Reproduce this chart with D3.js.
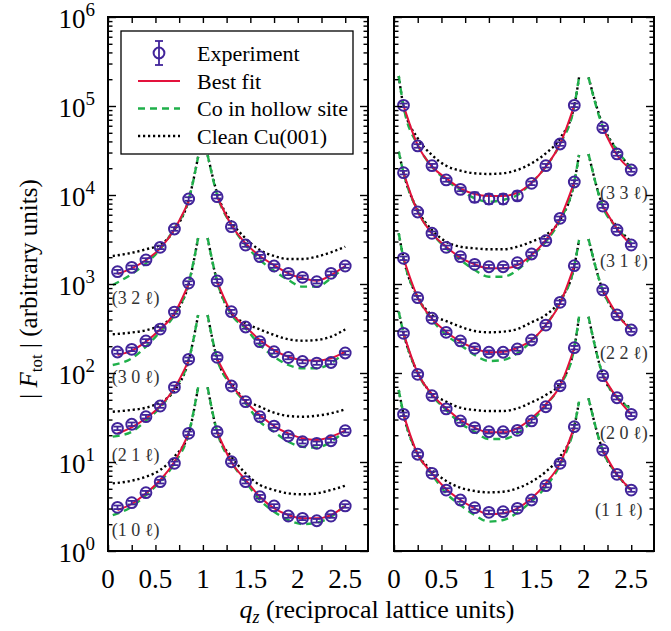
<!DOCTYPE html>
<html>
<head>
<meta charset="utf-8">
<script src="https://cdn.jsdelivr.net/npm/d3@7"></script>
<style>
  body { margin: 0; background: #fff; }
  svg, svg text { font-family: "Liberation Serif", "Times New Roman", "DejaVu Serif", serif; }
</style>
</head>
<body>
<svg id="chart" width="671" height="631" font-family="Liberation Serif, Times New Roman, serif"></svg>
<script>
// all values are log10 |F_tot|

// q_z grids
var qPtL  = [0.1, 0.25, 0.4, 0.55, 0.7, 0.85, 1.15, 1.3, 1.45, 1.6, 1.75, 1.9, 2.05, 2.2, 2.35, 2.5];
var qModL = [0.05, 0.25, 0.4, 0.55, 0.7, 0.85, 0.95, 1.05, 1.15, 1.3, 1.45, 1.6, 1.75, 1.9, 2.05, 2.2, 2.35, 2.5];
var qPtR  = [0.1, 0.25, 0.4, 0.55, 0.7, 0.85, 1.0, 1.15, 1.3, 1.45, 1.6, 1.75, 1.9, 2.2, 2.35, 2.5];
var qModR = [0.05, 0.1, 0.25, 0.4, 0.55, 0.7, 0.85, 1.0, 1.15, 1.3, 1.45, 1.6, 1.75, 1.9, 1.95, 2.05, 2.2, 2.35, 2.5];

// left panel rods: pt = experiment, fit = best fit, co = Co in hollow site, cu = clean Cu(001)
var pt10 = [0.491, 0.543, 0.655, 0.779, 0.985, 1.322, 1.34, 1.003, 0.779, 0.61, 0.506, 0.393, 0.367, 0.34, 0.393, 0.506];
var fit10 = [0.461, 0.528, 0.648, 0.798, 1.003, 1.32, 1.34, 1.0, 0.798, 0.61, 0.48, 0.404, 0.367, 0.367, 0.404, 0.506];
var co10 = [0.404, 0.498, 0.629, 0.779, 0.985, 1.32, 1.839, 1.839, 1.34, 1.0, 0.779, 0.573, 0.442, 0.348, 0.303, 0.318, 0.385, 0.517];
var cu10 = [0.76, 0.79, 0.835, 0.91, 1.06, 1.32, 1.839, 1.839, 1.34, 1.06, 0.873, 0.742, 0.685, 0.648, 0.637, 0.648, 0.685, 0.734];

var pt21 = [1.378, 1.424, 1.509, 1.629, 1.839, 2.154, 2.176, 1.854, 1.678, 1.509, 1.404, 1.292, 1.228, 1.21, 1.239, 1.352];
var fit21 = [1.322, 1.39, 1.491, 1.629, 1.828, 2.14, 2.16, 1.87, 1.678, 1.528, 1.404, 1.322, 1.266, 1.247, 1.284, 1.352];
var co21 = [1.285, 1.34, 1.464, 1.614, 1.828, 2.14, 2.652, 2.652, 2.16, 1.86, 1.66, 1.453, 1.34, 1.228, 1.172, 1.161, 1.228, 1.352];
var cu21 = [1.565, 1.585, 1.61, 1.67, 1.80, 2.14, 2.652, 2.652, 2.16, 1.884, 1.697, 1.621, 1.554, 1.517, 1.509, 1.52, 1.547, 1.592];

var pt30 = [2.236, 2.266, 2.36, 2.494, 2.685, 3.011, 3.034, 2.689, 2.517, 2.352, 2.239, 2.174, 2.129, 2.112, 2.118, 2.225];
var fit30 = [2.202, 2.251, 2.352, 2.491, 2.67, 3.0, 3.03, 2.68, 2.52, 2.371, 2.258, 2.183, 2.146, 2.139, 2.165, 2.239];
var co30 = [2.09, 2.165, 2.296, 2.464, 2.652, 3.01, 3.517, 3.517, 3.03, 2.66, 2.502, 2.315, 2.183, 2.09, 2.053, 2.053, 2.109, 2.239];
var cu30 = [2.435, 2.455, 2.48, 2.535, 2.66, 3.0, 3.517, 3.517, 3.03, 2.67, 2.56, 2.49, 2.427, 2.379, 2.363, 2.371, 2.408, 2.49];

var pt32 = [3.138, 3.187, 3.27, 3.412, 3.618, 3.955, 3.981, 3.644, 3.438, 3.307, 3.202, 3.12, 3.075, 3.026, 3.12, 3.202];
var fit32 = [3.112, 3.176, 3.27, 3.40, 3.614, 3.925, 3.98, 3.663, 3.457, 3.315, 3.213, 3.12, 3.064, 3.037, 3.101, 3.202];
var co32 = [2.989, 3.112, 3.232, 3.39, 3.626, 3.944, 4.43, 4.45, 4.0, 3.663, 3.438, 3.27, 3.149, 3.045, 2.97, 2.97, 3.064, 3.195];
var cu32 = [3.315, 3.35, 3.39, 3.44, 3.607, 3.944, 4.43, 4.45, 4.02, 3.70, 3.513, 3.382, 3.315, 3.281, 3.281, 3.307, 3.356, 3.419];

// right panel rods
var pt11 = [1.536, 1.087, 0.873, 0.685, 0.573, 0.487, 0.435, 0.442, 0.48, 0.573, 0.734, 0.985, 1.397, 1.135, 0.862, 0.685];
var fit11 = [1.536, 1.087, 0.873, 0.697, 0.573, 0.48, 0.412, 0.424, 0.48, 0.592, 0.761, 0.985, 1.397, 1.135, 0.862, 0.685];
var co11 = [1.809, 1.54, 1.09, 0.86, 0.648, 0.517, 0.404, 0.33, 0.348, 0.43, 0.56, 0.72, 0.97, 1.4, 1.678, 1.716, 1.13, 0.86, 0.685];
var cu11 = [1.809, 1.54, 1.09, 0.91, 0.787, 0.711, 0.674, 0.659, 0.666, 0.704, 0.779, 0.891, 1.06, 1.4, 1.678, 1.716, 1.13, 0.86, 0.685];

var pt20 = [2.446, 1.985, 1.745, 1.596, 1.461, 1.386, 1.34, 1.34, 1.356, 1.461, 1.621, 1.857, 2.284, 1.97, 1.722, 1.536];
var fit20 = [2.446, 2.0, 1.76, 1.603, 1.472, 1.386, 1.333, 1.333, 1.379, 1.491, 1.648, 1.857, 2.284, 1.97, 1.722, 1.536];
var co20 = [2.689, 2.45, 2.0, 1.75, 1.584, 1.435, 1.34, 1.258, 1.258, 1.322, 1.453, 1.64, 1.857, 2.284, 2.633, 2.633, 1.98, 1.73, 1.59];
var cu20 = [2.689, 2.45, 2.0, 1.772, 1.678, 1.61, 1.584, 1.573, 1.573, 1.603, 1.671, 1.753, 1.884, 2.284, 2.633, 2.633, 1.98, 1.73, 1.603];

var pt22 = [3.289, 2.846, 2.615, 2.457, 2.36, 2.277, 2.233, 2.233, 2.27, 2.371, 2.539, 2.794, 3.206, 2.933, 2.652, 2.483];
var fit22 = [3.289, 2.85, 2.61, 2.464, 2.352, 2.277, 2.233, 2.239, 2.284, 2.371, 2.539, 2.783, 3.206, 2.933, 2.66, 2.483];
var co22 = [3.57, 3.29, 2.85, 2.6, 2.427, 2.315, 2.202, 2.135, 2.146, 2.221, 2.36, 2.539, 2.794, 3.2, 3.494, 3.506, 2.93, 2.66, 2.50];
var cu22 = [3.57, 3.29, 2.85, 2.652, 2.584, 2.52, 2.472, 2.457, 2.464, 2.494, 2.57, 2.652, 2.82, 3.2, 3.494, 3.506, 2.93, 2.66, 2.50];

var pt31 = [4.251, 3.809, 3.57, 3.412, 3.307, 3.221, 3.194, 3.194, 3.239, 3.337, 3.487, 3.738, 4.146, 3.876, 3.607, 3.438];
var fit31 = [4.251, 3.81, 3.57, 3.419, 3.296, 3.221, 3.176, 3.176, 3.213, 3.326, 3.494, 3.738, 4.146, 3.876, 3.62, 3.438];
var co31 = [4.487, 4.25, 3.82, 3.57, 3.401, 3.27, 3.157, 3.082, 3.082, 3.157, 3.307, 3.475, 3.719, 4.146, 4.449, 4.461, 3.87, 3.63, 3.46];
var cu31 = [4.487, 4.25, 3.831, 3.607, 3.475, 3.419, 3.401, 3.39, 3.39, 3.419, 3.475, 3.551, 3.719, 4.146, 4.449, 4.461, 3.876, 3.644, 3.475];

var pt33 = [5.008, 4.551, 4.329, 4.169, 4.063, 3.974, 3.955, 3.955, 3.99, 4.131, 4.329, 4.573, 5.008, 4.756, 4.461, 4.281];
var fit33 = [5.008, 4.56, 4.32, 4.188, 4.075, 4.011, 3.989, 3.989, 4.026, 4.138, 4.318, 4.573, 5.008, 4.756, 4.449, 4.281];
var co33 = [5.337, 5.0, 4.562, 4.318, 4.169, 4.056, 3.963, 3.925, 3.944, 4.0, 4.138, 4.318, 4.573, 5.0, 5.322, 5.322, 4.767, 4.506, 4.3];
var cu33 = [5.337, 5.0, 4.637, 4.449, 4.329, 4.273, 4.244, 4.236, 4.244, 4.281, 4.356, 4.468, 4.637, 5.0, 5.322, 5.322, 4.787, 4.506, 4.3];
var err33 = [0.02, 0.02, 0.02, 0.02, 0.02, 0.055, 0.055, 0.055, 0.05, 0.02, 0.02, 0.02, 0.02, 0.02, 0.02, 0.02];

var rodNamesL = ["(3 2 \u2113)", "(3 0 \u2113)", "(2 1 \u2113)", "(1 0 \u2113)"];
var rodNamesR = ["(3 3 \u2113)", "(3 1 \u2113)", "(2 2 \u2113)", "(2 0 \u2113)", "(1 1 \u2113)"];
var legendNames = ["Experiment", "Best fit", "Co in hollow site", "Clean Cu(001)"];
var xTickLabels = [0, 0.5, 1, 1.5, 2, 2.5];
var yDecades = [0, 1, 2, 3, 4, 5, 6];

// rod label anchors, in data units (q, log10)
var labelAtL = [[0.04, 2.843], [0.04, 1.958], [0.04, 1.079], [0.04, 0.244]];
var labelAtR = [[2.674, 4.022], [2.674, 3.258], [2.674, 2.225], [2.674, 1.329], [2.62, 0.461]];

var C_PT = "#41249a", C_FIT = "#e3123c", C_CO = "#1fb04a", C_CU = "#000";

var svg = d3.select("#chart");
var top_ = 17, bot = 551;
var y = d3.scaleLog().domain([1, 1e6]).range([bot, top_]);
var xL = d3.scaleLinear().domain([0, 2.74]).range([108, 368]);
var xR = d3.scaleLinear().domain([0, 2.74]).range([394, 654]);
var F = function(v){ return Math.pow(10, v); };

var panels = [
  {id: "L", x: xL, gap: 1, qPt: qPtL, qMod: qModL, names: rodNamesL, labelAt: labelAtL, anchor: "start",
   rods: [[pt32, fit32, co32, cu32], [pt30, fit30, co30, cu30], [pt21, fit21, co21, cu21], [pt10, fit10, co10, cu10]]},
  {id: "R", x: xR, gap: 2, qPt: qPtR, qMod: qModR, names: rodNamesR, labelAt: labelAtR, anchor: "end",
   rods: [[pt33, fit33, co33, cu33, err33], [pt31, fit31, co31, cu31], [pt22, fit22, co22, cu22], [pt20, fit20, co20, cu20], [pt11, fit11, co11, cu11]]}
];

var split = function(qs, vs, gap){
  var pairs = qs.map(function(q, i){ return [q, vs[i]]; });
  return [pairs.filter(function(d){ return d[0] < gap; }), pairs.filter(function(d){ return d[0] > gap; })];
};

var drawPanel = function(p){
  var x = p.x;
  var line = d3.line()
    .x(function(d){ return x(d[0]); })
    .y(function(d){ return y(F(d[1])); })
    .curve(d3.curveMonotoneX);

  svg.append("clipPath").attr("id", "clip" + p.id)
    .append("rect").attr("x", x.range()[0]).attr("y", top_)
    .attr("width", x.range()[1] - x.range()[0]).attr("height", bot - top_);

  var g = svg.append("g").attr("clip-path", "url(#clip" + p.id + ")");

  p.rods.forEach(function(r){
    var segsCu = split(p.qMod, r[3], p.gap);
    var segsCo = split(p.qMod, r[2], p.gap);
    var segsFit = split(p.qPt, r[1], p.gap);

    g.selectAll(null).data(segsCu).enter().append("path")
      .attr("d", line).attr("fill", "none").attr("stroke", C_CU)
      .attr("stroke-width", 2.4).attr("stroke-dasharray", "2.2,2.8");
    g.selectAll(null).data(segsCo).enter().append("path")
      .attr("d", line).attr("fill", "none").attr("stroke", C_CO)
      .attr("stroke-width", 2.4).attr("stroke-dasharray", "7,5");
    g.selectAll(null).data(segsFit).enter().append("path")
      .attr("d", line).attr("fill", "none").attr("stroke", C_FIT)
      .attr("stroke-width", 2);

    var pts = p.qPt.map(function(q, i){ return {q: q, v: r[0][i], e: r[4] ? r[4][i] : 0.02}; });
    var pg = g.selectAll(null).data(pts).enter().append("g")
      .attr("stroke", C_PT).attr("stroke-width", 1.8).attr("fill", "none");
    pg.append("line")
      .attr("x1", function(d){ return x(d.q); }).attr("x2", function(d){ return x(d.q); })
      .attr("y1", function(d){ return y(F(d.v - d.e)); }).attr("y2", function(d){ return y(F(d.v + d.e)); });
    [-1, 1].forEach(function(s){
      pg.append("line")
        .attr("x1", function(d){ return x(d.q) - 4; }).attr("x2", function(d){ return x(d.q) + 4; })
        .attr("y1", function(d){ return y(F(d.v + s * d.e)); }).attr("y2", function(d){ return y(F(d.v + s * d.e)); });
    });
    pg.append("circle")
      .attr("cx", function(d){ return x(d.q); }).attr("cy", function(d){ return y(F(d.v)); })
      .attr("r", 5.4).attr("stroke-width", 2);
  });

  // rod labels
  svg.selectAll(null).data(p.names).enter().append("text")
    .attr("x", function(d, i){ return x(p.labelAt[i][0]); })
    .attr("y", function(d, i){ return y(F(p.labelAt[i][1])); })
    .attr("dy", "0.35em")
    .attr("text-anchor", p.anchor)
    .attr("font-size", 18).attr("fill", "#333")
    .text(function(d){ return d; });

  // frame
  svg.append("rect").attr("x", x.range()[0]).attr("y", top_)
    .attr("width", x.range()[1] - x.range()[0]).attr("height", bot - top_)
    .attr("fill", "none").attr("stroke", "#000").attr("stroke-width", 2);

  // inward ticks
  var xMinor = d3.range(0, 2.51, 0.25);
  var majors = yDecades.map(F);
  var minors = y.ticks().filter(function(v){ return majors.indexOf(v) < 0; });
  var tickAxis = function(axis, vals, size, tx, ty){
    svg.append("g").attr("transform", "translate(" + tx + "," + ty + ")")
      .call(axis.tickValues(vals).tickSize(size).tickFormat(""))
      .call(function(s){ s.select(".domain").remove(); })
      .selectAll("line").attr("stroke-width", 1.4);
  };
  tickAxis(d3.axisBottom(x), xMinor, -6, 0, bot);
  tickAxis(d3.axisTop(x), xMinor, -6, 0, top_);
  tickAxis(d3.axisLeft(y), majors, -8, x.range()[0], 0);
  tickAxis(d3.axisLeft(y), minors, -4.5, x.range()[0], 0);
  tickAxis(d3.axisRight(y), majors, -8, x.range()[1], 0);
  tickAxis(d3.axisRight(y), minors, -4.5, x.range()[1], 0);

  // x tick labels
  svg.selectAll(null).data(xTickLabels).enter().append("text")
    .attr("x", function(d){ return x(d); }).attr("y", 588)
    .attr("text-anchor", "middle").attr("font-size", 27)
    .text(function(d){ return d; });
};

panels.forEach(drawPanel);

// y tick labels 10^n
var yl = svg.selectAll(null).data(yDecades).enter().append("text")
  .attr("x", 95).attr("y", function(d){ return y(F(d)) + 11; })
  .attr("text-anchor", "end").attr("font-size", 27);
yl.append("tspan").text("10");
yl.append("tspan").attr("dy", -12).attr("font-size", 19).text(function(d){ return d; });

// axis titles
var xt = svg.append("text").attr("x", 377).attr("y", 618)
  .attr("text-anchor", "middle").attr("font-size", 26);
xt.append("tspan").attr("font-style", "italic").text("q");
xt.append("tspan").attr("font-style", "italic").attr("font-size", 18).attr("dy", 5).text("z");
xt.append("tspan").attr("dy", -5).text(" (reciprocal lattice units)");

var yt = svg.append("text").attr("transform", "translate(37,289) rotate(-90)")
  .attr("text-anchor", "middle").attr("font-size", 25);
yt.append("tspan").text("| ");
yt.append("tspan").attr("font-style", "italic").text("F");
yt.append("tspan").attr("font-size", 17).attr("dy", 5).text("tot");
yt.append("tspan").attr("dy", -5).text(" | (arbitrary units)");

// legend
var lg = svg.append("g");
lg.append("rect").attr("x", 121).attr("y", 31).attr("width", 232).attr("height", 123)
  .attr("fill", "#fff").attr("stroke", "#000").attr("stroke-width", 1.3);
var rowY = [53, 81, 108.5, 136];
lg.selectAll(null).data(legendNames).enter().append("text")
  .attr("x", 197).attr("y", function(d, i){ return rowY[i]; }).attr("dy", "0.35em")
  .attr("font-size", 22).text(function(d){ return d; });
var mk = lg.append("g").attr("stroke", C_PT).attr("stroke-width", 1.8).attr("fill", "none");
mk.append("line").attr("x1", 159).attr("x2", 159).attr("y1", rowY[0] - 12).attr("y2", rowY[0] + 12);
mk.append("line").attr("x1", 155).attr("x2", 163).attr("y1", rowY[0] - 12).attr("y2", rowY[0] - 12);
mk.append("line").attr("x1", 155).attr("x2", 163).attr("y1", rowY[0] + 12).attr("y2", rowY[0] + 12);
mk.append("circle").attr("cx", 159).attr("cy", rowY[0]).attr("r", 5.4).attr("stroke-width", 2);
lg.append("line").attr("x1", 138).attr("x2", 180).attr("y1", rowY[1]).attr("y2", rowY[1])
  .attr("stroke", C_FIT).attr("stroke-width", 2);
lg.append("line").attr("x1", 138).attr("x2", 180).attr("y1", rowY[2]).attr("y2", rowY[2])
  .attr("stroke", C_CO).attr("stroke-width", 2.4).attr("stroke-dasharray", "7,5");
lg.append("line").attr("x1", 138).attr("x2", 180).attr("y1", rowY[3]).attr("y2", rowY[3])
  .attr("stroke", C_CU).attr("stroke-width", 2.4).attr("stroke-dasharray", "2.2,2.8");
</script>
</body>
</html>
